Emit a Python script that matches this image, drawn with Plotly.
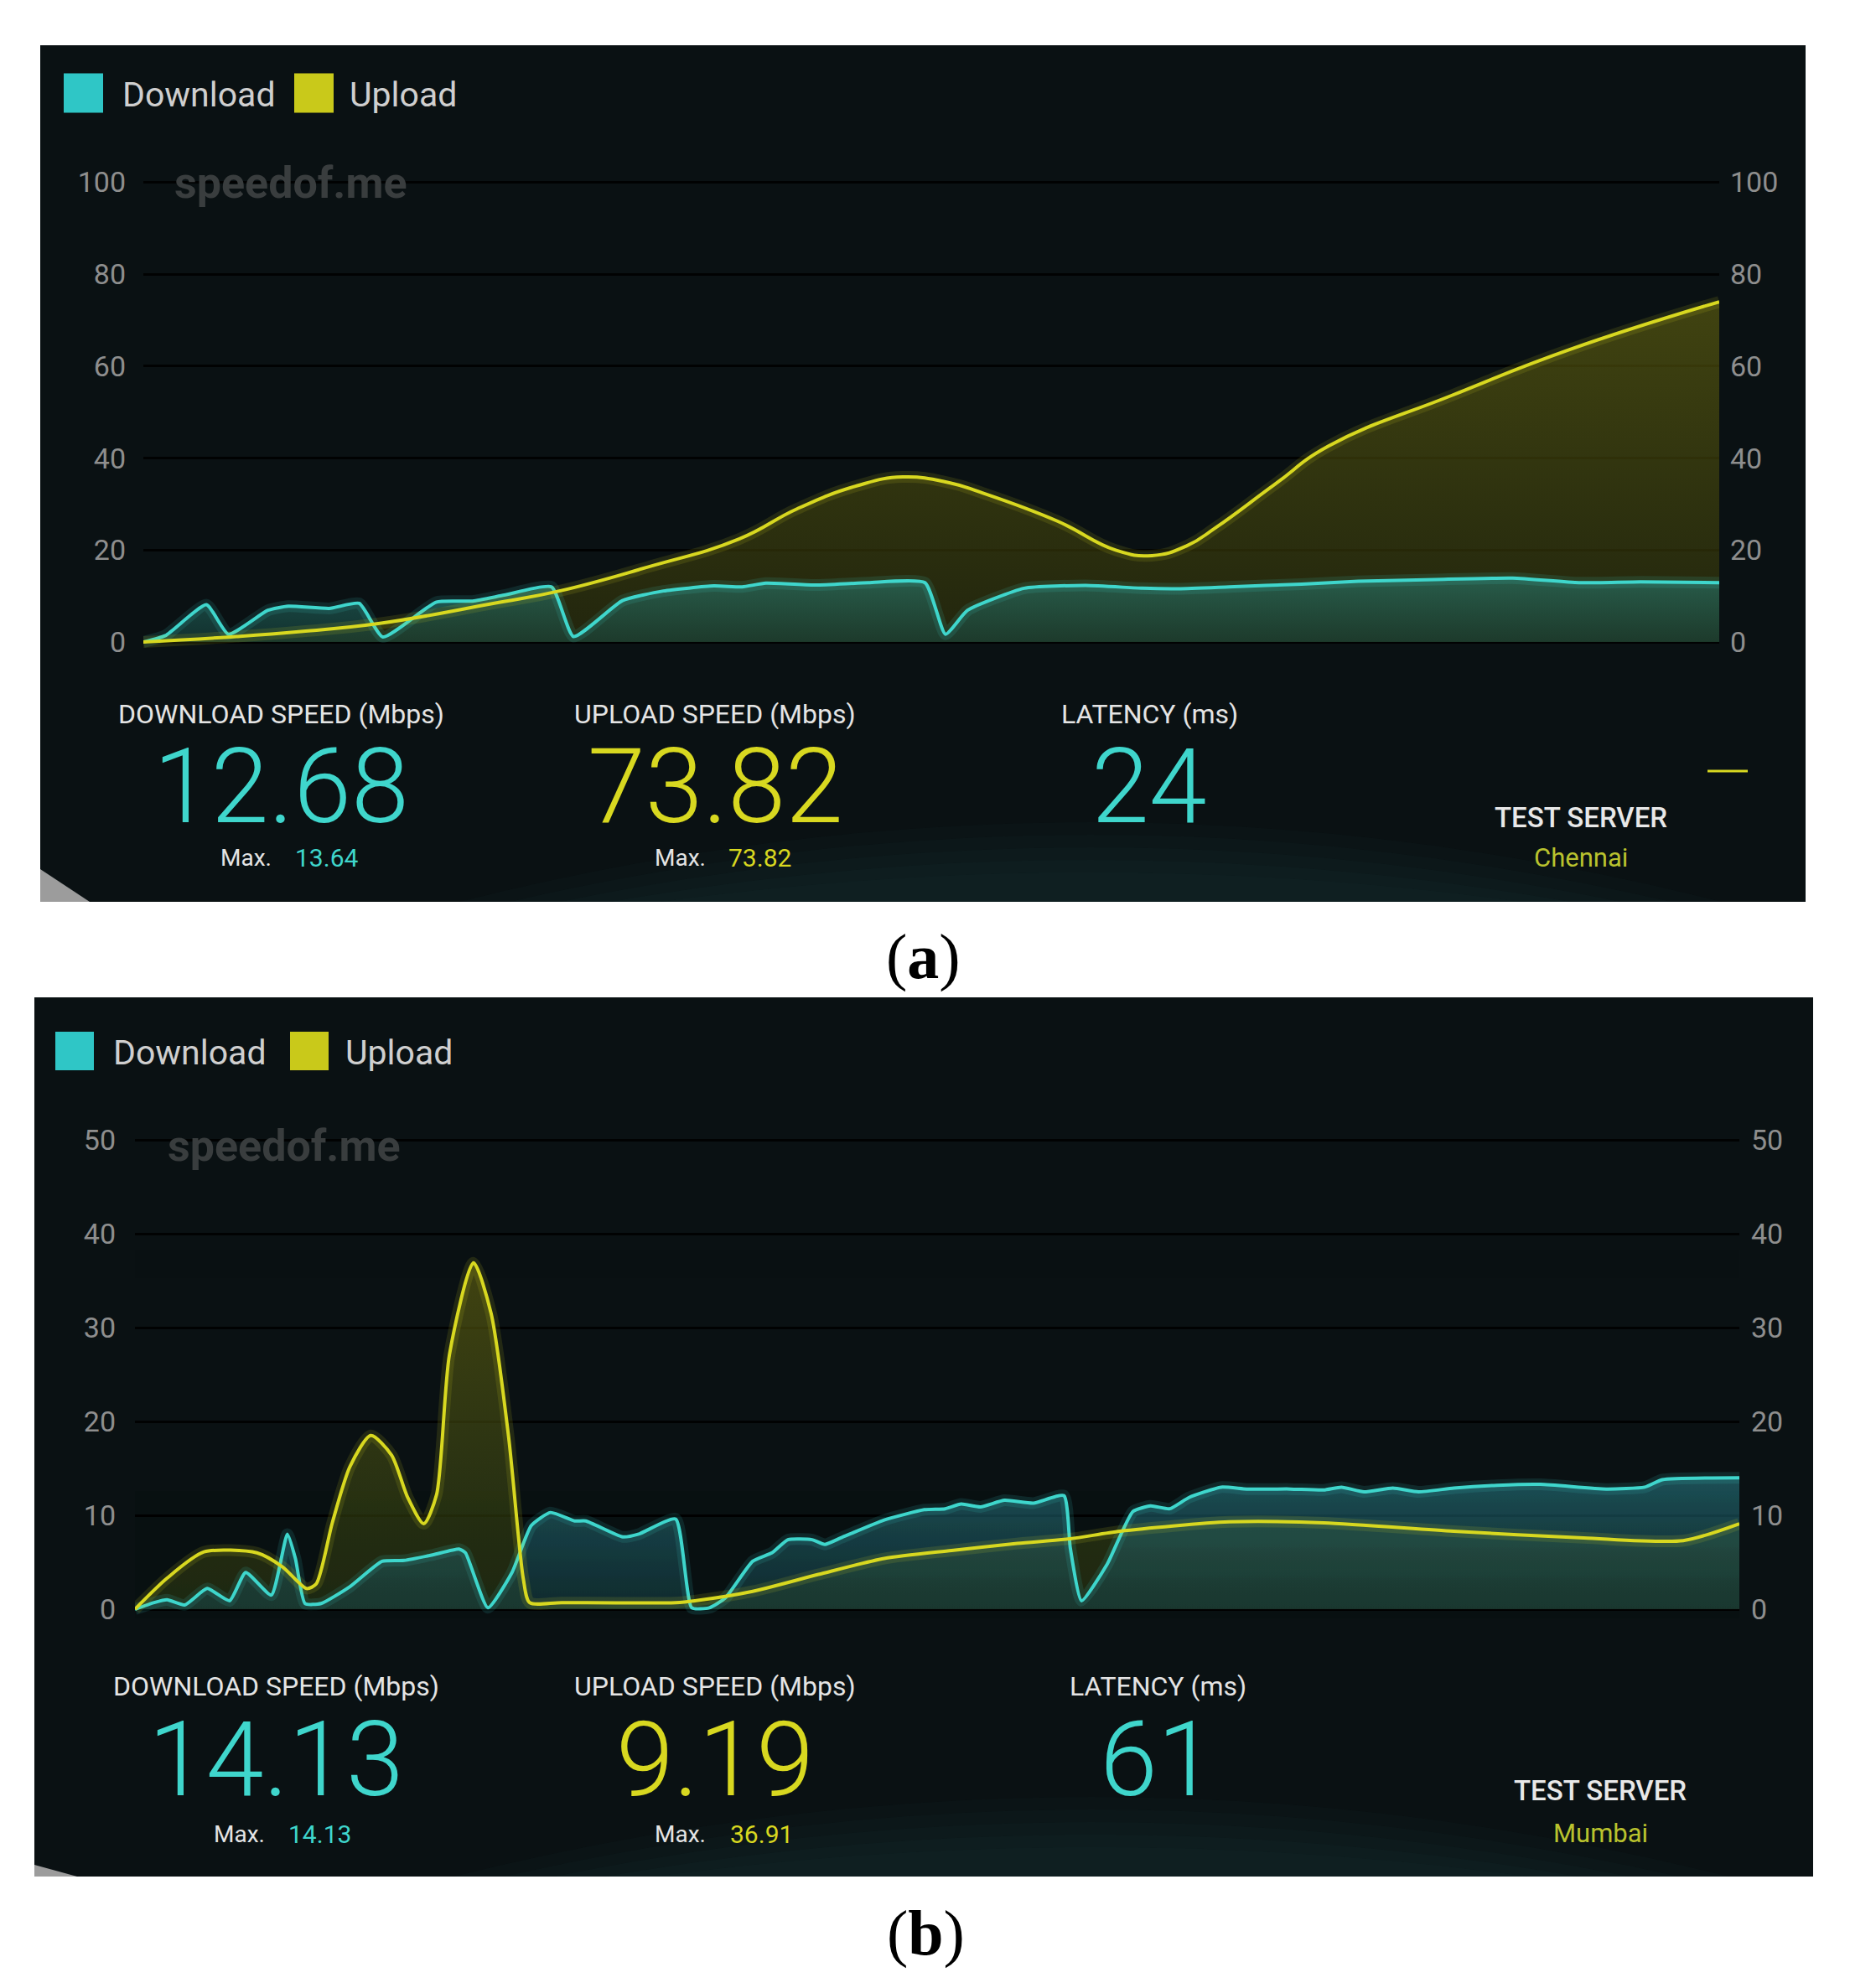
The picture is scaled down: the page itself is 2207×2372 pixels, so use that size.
import plotly.graph_objects as go

# ---- data (x = % of test duration) ----
a_dl_x = [0, 1.4, 4.0, 5.4, 7.9, 9.2, 11.8, 13.7, 15.2, 18.6, 20.9, 22.9, 25.9, 27.3, 30.4,
          33.0, 36.2, 38.0, 39.5, 42.7, 46.0, 49.6, 50.9, 52.3, 55.9, 59.8, 63.4, 65.7,
          68.9, 73.5, 77.1, 82.0, 86.9, 91.1, 95.0, 100]
a_dl_y = [0, 1.4, 8.1, 1.7, 6.9, 7.8, 7.3, 8.4, 1.1, 8.7, 8.9, 10.2, 12.0, 1.2, 9.0,
          11.1, 12.2, 12.0, 12.8, 12.4, 12.9, 12.9, 1.7, 6.9, 11.7, 12.3, 11.7, 11.6,
          12.0, 12.6, 13.2, 13.6, 13.9, 12.9, 13.1, 12.9]
a_ul_x = [0, 5.9, 10.0, 15.1, 22.2, 26.4, 32.0, 37.8, 41.5, 45.3, 48.2, 51.2, 53.1,
          58.0, 61.7, 64.0, 66.2, 68.1, 71.8, 75.2, 83.0, 90.5, 100]
a_ul_y = [0, 1.2, 2.3, 4.1, 8.4, 11.1, 16.3, 22.4, 29.0, 34.0, 35.9, 34.6, 32.6,
          26.3, 20.0, 18.8, 20.9, 25.0, 34.3, 42.6, 53.6, 63.6, 74.0]

b_dl_x = [0, 1.2, 2.0, 3.1, 4.5, 5.9, 6.9, 8.5, 9.5, 10.0, 10.6, 11.6, 13.4, 15.4, 16.8,
          18.6, 20.2, 20.6, 22.0, 23.5, 24.7, 25.9, 27.4, 28.1, 30.4, 31.4, 33.7, 34.7,
          35.8, 36.8, 38.5, 39.7, 40.7, 42.2, 43.0, 44.0, 46.7, 49.2, 50.5, 51.5, 52.7,
          54.2, 56.0, 57.9, 58.3, 59.0, 60.6, 62.2, 63.3, 64.5, 65.7, 67.7, 69.3, 72.0,
          74.1, 75.2, 76.6, 78.4, 80.0, 82.2, 84.9, 87.6, 91.7, 94.1, 95.2, 100]
b_dl_y = [0, 0.7, 1.0, 0.45, 2.2, 0.9, 3.9, 1.5, 8.0, 5.4, 0.6, 0.6, 2.4, 5.1, 5.2,
          5.8, 6.4, 6.0, 0.15, 3.9, 8.9, 10.3, 9.4, 9.4, 7.7, 8.0, 9.6, 0.15,
          0.15, 1.2, 5.1, 6.0, 7.4, 7.4, 6.9, 7.6, 9.5, 10.6, 10.7, 11.2, 10.9,
          11.6, 11.3, 12.1, 6.5, 0.9, 4.8, 10.4, 11.0, 10.7, 11.9, 13.0, 12.8, 12.8,
          12.7, 13.0, 12.5, 12.9, 12.5, 12.9, 13.2, 13.3, 12.8, 13.0, 13.8, 14.0]
b_ul_x = [0, 2.0, 4.3, 7.6, 9.2, 10.7, 11.3, 12.3, 13.4, 14.7, 16.0, 17.0, 18.0, 18.8,
          19.6, 21.1, 22.2, 23.3, 24.2, 24.6, 26.6, 33.7, 34.9, 38.5, 42.6, 46.7, 50.9,
          55.0, 58.3, 61.4, 68.2, 74.1, 82.2, 90.3, 96.5, 100]
b_ul_y = [0, 3.3, 6.1, 6.0, 4.5, 2.2, 2.7, 9.2, 15.2, 18.5, 16.4, 11.9, 9.1, 12.2,
          27.1, 36.9, 31.5, 18.2, 3.3, 0.7, 0.7, 0.7, 0.9, 1.9, 3.7, 5.4, 6.25,
          7.0, 7.5, 8.3, 9.3, 9.2, 8.3, 7.6, 7.3, 9.1]

a_ticks = [0, 20, 40, 60, 80, 100]
b_ticks = [0, 10, 20, 30, 40, 50]

a_stats = ["12.68", "73.82", "24", "13.64", "73.82", "Chennai"]
b_stats = ["14.13", "9.19", "61", "14.13", "36.91", "Mumbai"]
stat_labels = ["DOWNLOAD SPEED (Mbps)", "UPLOAD SPEED (Mbps)", "LATENCY (ms)"]

W, H = 2207, 2372
OFF = 8  # the page body adds an 8px margin; shift everything back by it
CYAN = "#3fd6cc"
YELLOW = "#d8d820"
PANEL = "#0a1113"
TICK = "#8e8e8e"


def fx(p):
    return (p - OFF) / W


def fy(p):
    return 1 - (p - OFF) / H


fig = go.Figure()


def add_fill(x, y, xa, ya, fill_lo, fill_hi, smooth):
    fig.add_trace(go.Scatter(x=x, y=y, xaxis=xa, yaxis=ya, mode="lines",
                             line=dict(width=0, shape="spline", smoothing=smooth),
                             fill="tozeroy",
                             fillgradient=dict(type="vertical",
                                               colorscale=[[0, fill_lo], [1, fill_hi]]),
                             hoverinfo="skip", showlegend=False))


def add_line(x, y, xa, ya, color, smooth):
    fig.add_trace(go.Scatter(x=x, y=y, xaxis=xa, yaxis=ya, mode="lines",
                             line=dict(width=14, color=color, shape="spline", smoothing=smooth),
                             opacity=0.12, hoverinfo="skip", showlegend=False))
    fig.add_trace(go.Scatter(x=x, y=y, xaxis=xa, yaxis=ya, mode="lines",
                             line=dict(width=4, color=color, shape="spline", smoothing=smooth),
                             hoverinfo="skip", showlegend=False))


# panel (a)
add_fill(a_ul_x, a_ul_y, "x", "y", "rgba(50,52,10,0.6)", "rgba(98,98,15,0.62)", 1.3)
add_fill(a_dl_x, a_dl_y, "x", "y", "rgba(25,75,68,0.55)", "rgba(40,125,115,0.6)", 0.5)
add_line(a_dl_x, a_dl_y, "x", "y", CYAN, 0.5)
add_line(a_ul_x, a_ul_y, "x", "y", YELLOW, 1.3)
fig.add_trace(go.Scatter(x=a_ul_x, y=a_ul_y, xaxis="x", yaxis="y3", mode="lines",
                         opacity=0, hoverinfo="skip", showlegend=False))

# panel (b)
add_fill(b_ul_x, b_ul_y, "x2", "y2", "rgba(45,60,20,0.55)", "rgba(98,98,15,0.62)", 0.7)
add_fill(b_dl_x, b_dl_y, "x2", "y2", "rgba(25,70,75,0.5)", "rgba(40,120,130,0.6)", 0.5)
add_line(b_dl_x, b_dl_y, "x2", "y2", CYAN, 0.5)
add_line(b_ul_x, b_ul_y, "x2", "y2", YELLOW, 0.7)
fig.add_trace(go.Scatter(x=b_ul_x, y=b_ul_y, xaxis="x2", yaxis="y4", mode="lines",
                         opacity=0, hoverinfo="skip", showlegend=False))

tickfont = dict(family="Roboto", size=34, color=TICK)
ax_common = dict(showline=False, zeroline=False, ticks="", tickfont=tickfont, automargin=False)

shapes = []
annotations = []


def rect(x0, y0, x1, y1, color, layer="below"):
    shapes.append(dict(type="rect", xref="paper", yref="paper", x0=fx(x0), x1=fx(x1),
                       y0=fy(y1), y1=fy(y0), fillcolor=color, line=dict(width=0), layer=layer))


def path(points, color):
    d = "M " + " L ".join(f"{fx(a):.5f},{fy(b):.5f}" for a, b in points) + " Z"
    shapes.append(dict(type="path", xref="paper", yref="paper", path=d,
                       fillcolor=color, line=dict(width=0), layer="below"))


def hill(x0, x1, ytop, ybase, color):
    d = (f"M {fx(x0):.5f},{fy(ybase):.5f} Q {fx((x0 + x1) / 2):.5f},{fy(ytop):.5f} "
         f"{fx(x1):.5f},{fy(ybase):.5f} Z")
    shapes.append(dict(type="path", xref="paper", yref="paper", path=d,
                       fillcolor=color, line=dict(width=0), layer="below"))


def txt(x, y, text, size, color, xanchor="center", weight=400, family="Roboto"):
    annotations.append(dict(x=fx(x), y=fy(y), xref="paper", yref="paper", text=text,
                            showarrow=False, xanchor=xanchor, yanchor="middle",
                            font=dict(family=family, size=size, color=color, weight=weight)))


def panel(top, bottom, left, right, leg_y, sq, dl_text_x, ul_sq_x, ul_text_x, wm_x, wm_y,
          lab_y, num_y, max_y, cols, maxcols, srv, srv_y, srv_name_y, stats, corner):
    rect(left, top, right, bottom, PANEL)
    # soft teal glow rising from the bottom edge
    for i in range(5):
        hill(left + 500 + 60 * i, right - 100 - 60 * i, bottom - 190 + 30 * i, bottom,
             "rgba(45,120,118,0.035)")
    path(corner, "#9c9c9c")
    rect(sq[0], leg_y - sq[1] / 2, sq[0] + sq[1], leg_y + sq[1] / 2, "#2fc6c6", "above")
    rect(ul_sq_x, leg_y - sq[1] / 2, ul_sq_x + sq[1], leg_y + sq[1] / 2, "#c9c91a", "above")
    txt(dl_text_x, leg_y + 2, "Download", 41, "#cfcfcf", "left")
    txt(ul_text_x, leg_y + 2, "Upload", 41, "#cfcfcf", "left")
    txt(wm_x, wm_y, "speedof.me", 52, "#393d3e", "left", 700)
    for lab, cx in zip(stat_labels, cols):
        txt(cx, lab_y, lab, 32, "#e4e4e4")
    for val, cx, c in zip(stats[:3], cols, [CYAN, YELLOW, CYAN]):
        txt(cx, num_y, val, 124, c, weight=300)
    for (mx, vx), val, c in zip(maxcols, stats[3:5], [CYAN, YELLOW]):
        txt(mx, max_y, "Max.", 28, "#e4e4e4")
        txt(vx, max_y, val, 30, c)
    txt(srv, srv_y, "TEST SERVER", 33, "#e8e8e8", weight=500)
    txt(srv, srv_name_y, stats[5], 31, "#b9c22e")


panel(54, 1076, 48, 2154, 111, (76, 47), 144, 351, 415, 206, 218,
      852, 938, 1023, [335, 853, 1371], [(293, 389), (811, 906)], 1886, 975, 1023,
      a_stats, [(48, 1037), (48, 1076), (107, 1076)])
panel(1190, 2239, 41, 2163, 1254, (66, 46), 133, 346, 410, 198, 1367,
      2012, 2099, 2188, [329, 853, 1381], [(285, 381), (811, 908)], 1909, 2136, 2187,
      b_stats, [(41, 2225), (41, 2239), (92, 2239)])

shapes.append(dict(type="line", xref="paper", yref="paper", x0=fx(2037), x1=fx(2085),
                   y0=fy(920), y1=fy(920), line=dict(color=YELLOW, width=3)))

txt(1101, 1142, "(<b>a</b>)", 76, "#000000", family="Liberation Serif")
txt(1104, 2306, "(<b>b</b>)", 76, "#000000", family="Liberation Serif")

grid = dict(showgrid=True, gridcolor="rgba(0,0,0,0.85)", gridwidth=3)

fig.update_layout(
    width=W, height=H,
    margin=dict(l=0, r=0, t=0, b=0, autoexpand=False),
    paper_bgcolor="white",
    plot_bgcolor="rgba(0,0,0,0)",
    showlegend=False,
    xaxis=dict(domain=[fx(171), fx(2051)], range=[0, 100], showgrid=False,
               showticklabels=False, **ax_common),
    yaxis=dict(domain=[fy(777), fy(212)], range=[-2, 101], tickvals=a_ticks,
               ticklabelstandoff=20, **grid, **ax_common),
    yaxis3=dict(overlaying="y", anchor="x", side="right", range=[-2, 101], tickvals=a_ticks,
                showgrid=False, ticklabelstandoff=12, **ax_common),
    xaxis2=dict(domain=[fx(161), fx(2075)], range=[0, 100], anchor="y2", showgrid=False,
                showticklabels=False, **ax_common),
    yaxis2=dict(domain=[fy(1931.2), fy(1354.4)], range=[-1, 50.5], anchor="x2",
                tickvals=b_ticks, ticklabelstandoff=22, **grid, **ax_common),
    yaxis4=dict(overlaying="y2", anchor="x2", side="right", range=[-1, 50.5], tickvals=b_ticks,
                showgrid=False, ticklabelstandoff=13, **ax_common),
    shapes=shapes,
    annotations=annotations,
)

fig.write_html("out.html")
